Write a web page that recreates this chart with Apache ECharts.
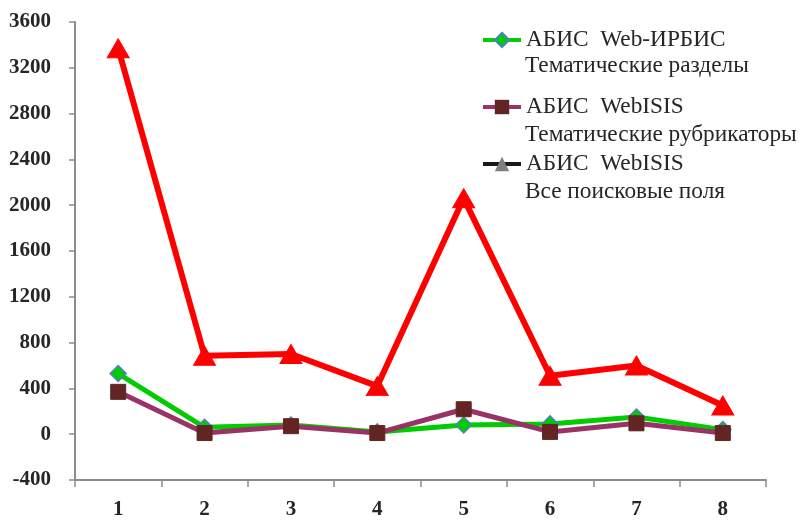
<!DOCTYPE html>
<html><head><meta charset="utf-8">
<script src="https://cdn.jsdelivr.net/npm/echarts@6/dist/echarts.min.js"></script>
<style>html,body{margin:0;padding:0;background:#fff}#c{width:803px;height:520px}</style>
</head><body><div id="c"></div>
<script>
const categories = ['1','2','3','4','5','6','7','8'];
const seriesNames = [
  'АБИС  Web-ИРБИС\nТематические разделы',
  'АБИС  WebISIS\nТематические рубрикаторы',
  'АБИС  WebISIS\nВсе поисковые поля'
];
const irbisSections = [530, 60, 80, 20, 80, 90, 150, 40];
const isisRubrics = [370, 10, 70, 10, 218, 20, 95, 10];
const isisAllFields = [3370, 685, 700, 420, 2060, 510, 600, 250];
const yTicks = {min: -400, max: 3600, interval: 400};

const chart = echarts.init(document.getElementById('c'));
const font = 'Liberation Serif, Times New Roman, serif';
const legendText = {fontFamily: font, fontSize: 23.3, color: '#262626', lineHeight: 24};
const iconStyles = [
  {lineStyle: {width: 4}},
  {lineStyle: {width: 4}},
  {itemStyle: {color: '#7f7f7f', borderColor: '#7f7f7f'}, lineStyle: {color: '#1a1a1a', width: 4}}
];
const line1Tops = [28, 95, 152];
const line2Tops = [54, 123, 180];
const legends = [];
seriesNames.forEach((n, i) => {
  legends.push({
    orient: 'vertical', left: 481, top: line1Tops[i], padding: 0, selectedMode: false,
    itemWidth: 38, itemHeight: 18, textStyle: legendText,
    formatter: s => s.split('\n')[0],
    data: [Object.assign({name: n}, iconStyles[i])]
  });
  legends.push({
    orient: 'vertical', left: 481, top: line2Tops[i], padding: 0, selectedMode: false,
    itemWidth: 38, itemHeight: 18, textStyle: legendText,
    formatter: s => s.split('\n')[1],
    data: [{name: n, itemStyle: {opacity: 0}, lineStyle: {opacity: 0}}]
  });
});

chart.setOption({
  animation: false,
  grid: {left: 75, right: 37, top: 22, bottom: 40, outerBoundsMode: 'none', containLabel: false},
  legend: legends,
  xAxis: {
    type: 'category', data: categories, boundaryGap: true,
    axisLine: {onZero: false, lineStyle: {color: '#8c8c8c', width: 2}},
    axisTick: {show: true, length: 7, lineStyle: {color: '#8c8c8c', width: 1.5}},
    axisLabel: {fontFamily: font, fontWeight: 'bold', fontSize: 21, color: '#262626', margin: 19}
  },
  yAxis: {
    type: 'value', min: yTicks.min, max: yTicks.max, interval: yTicks.interval,
    splitLine: {show: false},
    axisLine: {show: true, lineStyle: {color: '#8c8c8c', width: 2}},
    axisTick: {show: true, length: 6, lineStyle: {color: '#8c8c8c', width: 1.5}},
    axisLabel: {fontFamily: font, fontWeight: 'bold', fontSize: 21, color: '#262626', margin: 24,
      formatter: v => String(v)}
  },
  series: [
    {
      name: seriesNames[0], type: 'line', data: irbisSections,
      symbol: 'diamond', symbolSize: 16,
      lineStyle: {color: '#00cc00', width: 5},
      itemStyle: {color: '#00cc00', borderColor: '#4f81bd', borderWidth: 1.5},
      z: 3
    },
    {
      name: seriesNames[1], type: 'line', data: isisRubrics,
      symbol: 'rect', symbolSize: 15,
      lineStyle: {color: '#993366', width: 5},
      itemStyle: {color: '#632523', borderColor: '#632523'},
      z: 4
    },
    {
      name: seriesNames[2], type: 'line', data: isisAllFields,
      symbol: 'triangle', symbolSize: [22, 19],
      lineStyle: {color: '#ff0000', width: 6},
      itemStyle: {color: '#ff0000', borderColor: '#ff0000'},
      z: 5
    }
  ]
});
</script></body></html>
